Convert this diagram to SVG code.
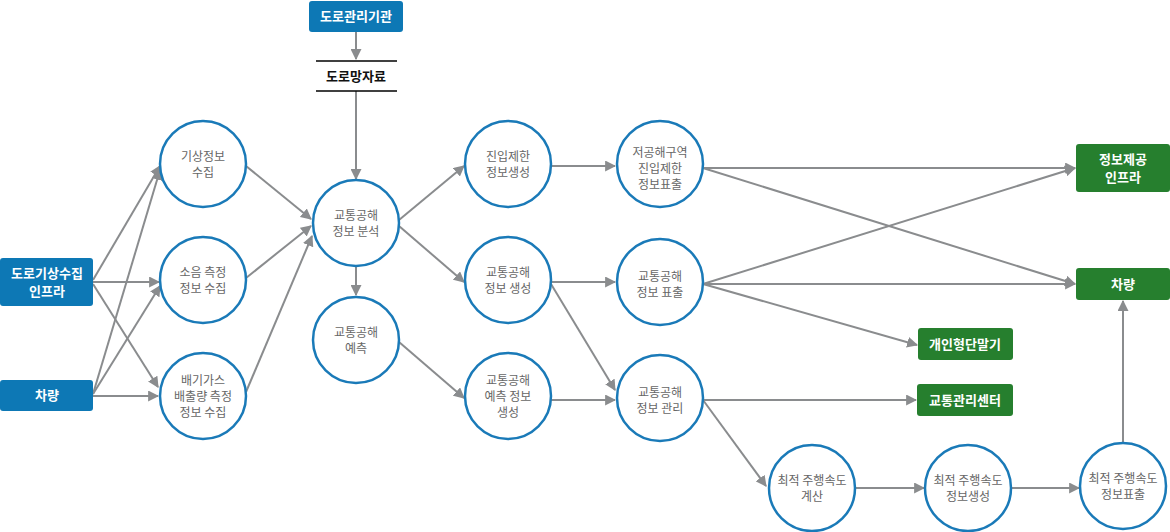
<svg xmlns="http://www.w3.org/2000/svg" width="1170" height="532" viewBox="0 0 1170 532">
<style>
.c{fill:#fff;stroke:#1a7ab8;stroke-width:2.5}
.t{font-family:"Noto Sans CJK KR","Noto Sans",sans-serif;font-size:12px;fill:#666;text-anchor:middle}
.b{font-family:"Noto Sans CJK KR","Noto Sans",sans-serif;font-size:13px;font-weight:bold;fill:#fff;text-anchor:middle}
.bl{fill:#0d78b5}.gr{fill:#267f2e}
.e line{stroke:#8a8c8e;stroke-width:2;marker-end:url(#a)}
</style>
<defs><marker id="a" viewBox="0 0 10 10" refX="9" refY="5" markerWidth="5.5" markerHeight="5.5" orient="auto" markerUnits="strokeWidth"><path d="M0,0L10,5L0,10z" fill="#8a8c8e"/></marker></defs>
<g class="e">
<line x1="356" y1="31" x2="356" y2="59"/>
<line x1="356" y1="91" x2="356" y2="179"/>
<line x1="93" y1="280" x2="160" y2="166"/>
<line x1="93" y1="282" x2="159" y2="282"/>
<line x1="93" y1="284" x2="158" y2="387"/>
<line x1="93" y1="394" x2="160" y2="170"/>
<line x1="93" y1="394" x2="160" y2="286"/>
<line x1="93" y1="396" x2="158" y2="396"/>
<line x1="246" y1="166" x2="311" y2="219"/>
<line x1="246" y1="278" x2="311" y2="226"/>
<line x1="246" y1="392" x2="312" y2="236"/>
<line x1="356" y1="266" x2="356" y2="295"/>
<line x1="399" y1="220" x2="464" y2="166"/>
<line x1="399" y1="226" x2="464" y2="282"/>
<line x1="399" y1="342" x2="464" y2="398"/>
<line x1="551" y1="166" x2="615" y2="166"/>
<line x1="551" y1="282" x2="615" y2="282"/>
<line x1="551" y1="284" x2="615" y2="390"/>
<line x1="551" y1="400" x2="615" y2="400"/>
<line x1="703" y1="168" x2="1075" y2="168"/>
<line x1="703" y1="168" x2="1075" y2="284"/>
<line x1="703" y1="284" x2="1075" y2="168"/>
<line x1="703" y1="284" x2="1075" y2="284"/>
<line x1="703" y1="284" x2="917" y2="345"/>
<line x1="703" y1="400" x2="916" y2="400"/>
<line x1="703" y1="400" x2="766" y2="486"/>
<line x1="855" y1="488" x2="924" y2="488"/>
<line x1="1011" y1="488" x2="1079" y2="488"/>
<line x1="1123" y1="443" x2="1123" y2="301"/>
</g>
<g id="n-agency"><rect class="bl" x="309" y="1" width="94" height="31" rx="3"/><text class="b" x="356" y="21">도로관리기관</text></g>
<g id="n-roadnet"><line x1="316" y1="61" x2="397" y2="61" stroke="#000" stroke-width="1.5"/><line x1="316" y1="91" x2="397" y2="91" stroke="#000" stroke-width="1.5"/><text class="b" x="356" y="81" style="fill:#111">도로망자료</text></g>
<g id="n-infra"><rect class="bl" x="0" y="258" width="93" height="48" rx="3"/><text class="b" x="47" y="278">도로기상수집</text><text class="b" x="47" y="296">인프라</text></g>
<g id="n-car1"><rect class="bl" x="0" y="380" width="93" height="31" rx="3"/><text class="b" x="47" y="400">차량</text></g>
<g id="n-c1"><circle class="c" cx="203" cy="164" r="43"/><text class="t" x="203" y="161">기상정보</text><text class="t" x="203" y="177">수집</text></g>
<g id="n-c2"><circle class="c" cx="203" cy="280" r="43"/><text class="t" x="203" y="277">소음 측정</text><text class="t" x="203" y="293">정보 수집</text></g>
<g id="n-c3"><circle class="c" cx="203" cy="396" r="43"/><text class="t" x="203" y="385">배기가스</text><text class="t" x="203" y="401">배출량 측정</text><text class="t" x="203" y="417">정보 수집</text></g>
<g id="n-c4"><circle class="c" cx="356" cy="223" r="43"/><text class="t" x="356" y="220">교통공해</text><text class="t" x="356" y="236">정보 분석</text></g>
<g id="n-c5"><circle class="c" cx="356" cy="340" r="43"/><text class="t" x="356" y="337">교통공해</text><text class="t" x="356" y="353">예측</text></g>
<g id="n-c6"><circle class="c" cx="508" cy="164" r="43"/><text class="t" x="508" y="161">진입제한</text><text class="t" x="508" y="177">정보생성</text></g>
<g id="n-c7"><circle class="c" cx="508" cy="280" r="43"/><text class="t" x="508" y="277">교통공해</text><text class="t" x="508" y="293">정보 생성</text></g>
<g id="n-c8"><circle class="c" cx="508" cy="396" r="43"/><text class="t" x="508" y="385">교통공해</text><text class="t" x="508" y="401">예측 정보</text><text class="t" x="508" y="417">생성</text></g>
<g id="n-c9"><circle class="c" cx="660" cy="164" r="43"/><text class="t" x="660" y="157">저공해구역</text><text class="t" x="660" y="173">진입제한</text><text class="t" x="660" y="189">정보표출</text></g>
<g id="n-c10"><circle class="c" cx="660" cy="282" r="43"/><text class="t" x="660" y="281">교통공해</text><text class="t" x="660" y="297">정보 표출</text></g>
<g id="n-c11"><circle class="c" cx="660" cy="398" r="43"/><text class="t" x="660" y="397">교통공해</text><text class="t" x="660" y="413">정보 관리</text></g>
<g id="n-c12"><circle class="c" cx="812" cy="488" r="43"/><text class="t" x="812" y="485">최적 주행속도</text><text class="t" x="812" y="501">계산</text></g>
<g id="n-c13"><circle class="c" cx="968" cy="488" r="43"/><text class="t" x="968" y="485">최적 주행속도</text><text class="t" x="968" y="501">정보생성</text></g>
<g id="n-c14"><circle class="c" cx="1123" cy="486" r="43"/><text class="t" x="1123" y="483">최적 주행속도</text><text class="t" x="1123" y="499">정보표출</text></g>
<g id="n-provide"><rect class="gr" x="1076" y="144" width="94" height="48" rx="3"/><text class="b" x="1123" y="164">정보제공</text><text class="b" x="1123" y="182">인프라</text></g>
<g id="n-car2"><rect class="gr" x="1076" y="268" width="94" height="32" rx="3"/><text class="b" x="1123" y="289">차량</text></g>
<g id="n-personal"><rect class="gr" x="918" y="328" width="95" height="32" rx="3"/><text class="b" x="965" y="349">개인형단말기</text></g>
<g id="n-center"><rect class="gr" x="917" y="384" width="96" height="32" rx="3"/><text class="b" x="965" y="405">교통관리센터</text></g>
</svg>
